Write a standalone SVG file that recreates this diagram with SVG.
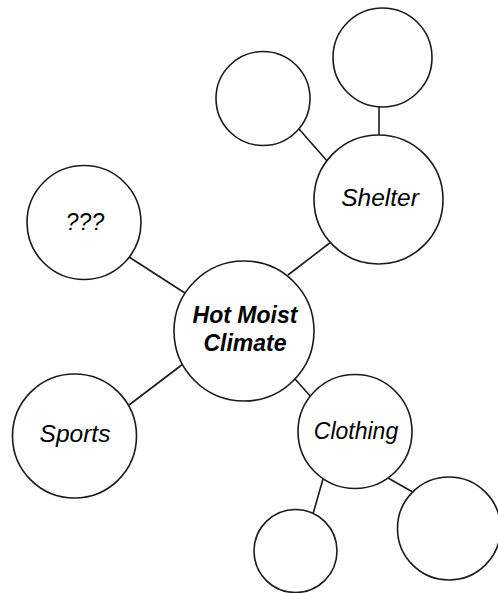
<svg xmlns="http://www.w3.org/2000/svg" width="498" height="593" viewBox="0 0 498 593">
<style>
.n{fill:#fff;stroke:#1a1a1a;stroke-width:1.6}
.c{stroke:#1a1a1a;stroke-width:1.6;fill:none}
.t{font-family:"Liberation Sans",Arial,sans-serif;font-style:italic;font-size:23px;fill:#000;text-anchor:middle}
.l{font-size:24.5px}
.b{font-weight:bold}
</style>
<rect width="498" height="593" fill="#fff"/>
<g id="connectors">
<line class="c" x1="379" y1="106" x2="379" y2="136"/>
<line class="c" x1="299" y1="129" x2="328" y2="162"/>
<line class="c" x1="331" y1="242" x2="288" y2="275"/>
<line class="c" x1="129" y1="257" x2="188" y2="295"/>
<line class="c" x1="183" y1="364" x2="129" y2="405"/>
<line class="c" x1="295" y1="379" x2="312" y2="398"/>
<line class="c" x1="323" y1="479" x2="313" y2="514"/>
<line class="c" x1="388" y1="478" x2="418" y2="495"/>
</g>
<g id="top-right"><circle class="n" cx="382.5" cy="57.5" r="49.5"/></g>
<g id="top-left"><circle class="n" cx="263" cy="98.5" r="47"/></g>
<g id="shelter"><circle class="n" cx="378.5" cy="199.5" r="64.5"/><text class="t l" x="380" y="206">Shelter</text></g>
<g id="unknown"><circle class="n" cx="84" cy="222.5" r="57"/><text class="t" x="85" y="230">???</text></g>
<g id="hot-moist-climate"><circle class="n" cx="244" cy="331" r="70"/><text class="t b" x="245" y="323">Hot Moist</text><text class="t b" x="245" y="351">Climate</text></g>
<g id="sports"><circle class="n" cx="74.5" cy="436" r="62"/><text class="t l" x="75" y="442">Sports</text></g>
<g id="clothing"><circle class="n" cx="355" cy="431.5" r="57"/><text class="t" x="356" y="439">Clothing</text></g>
<g id="bottom-mid"><circle class="n" cx="295.5" cy="551" r="41.5"/></g>
<g id="bottom-right"><circle class="n" cx="449" cy="528.5" r="51.5"/></g>
</svg>
